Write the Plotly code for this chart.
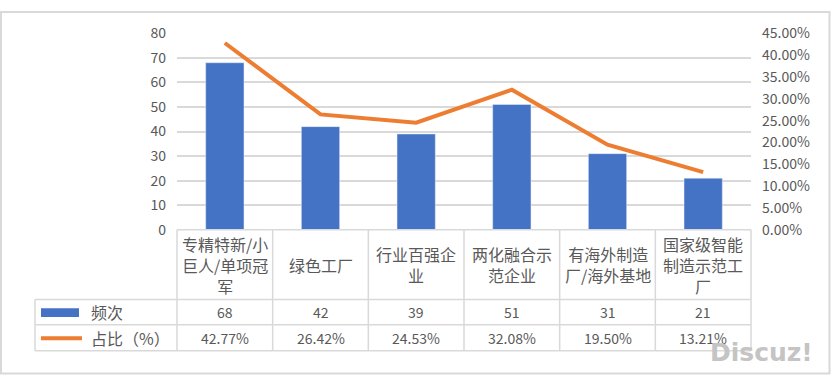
import plotly.graph_objects as go

categories = ["专精特新/小巨人/单项冠军", "绿色工厂", "行业百强企业", "两化融合示范企业", "有海外制造厂/海外基地", "国家级智能制造示范工厂"]
category_labels = ["专精特新/小<br>巨人/单项冠<br>军", "绿色工厂", "行业百强企<br>业", "两化融合示<br>范企业", "有海外制造<br>厂/海外基地", "国家级智能<br>制造示范工<br>厂"]
freq = [68, 42, 39, 51, 31, 21]
share = [0.4277, 0.2642, 0.2453, 0.3208, 0.1950, 0.1321]
series_names = ["频次", "占比（%）"]

W, H = 832, 377          # reference picture size (layout positions below are in these pixels)
FIG_H = 385              # height of the rendered viewport (photographed and fitted to 377)
X0, X1 = 177, 751
Y_TOP, Y_BOT = 23, 226
ROW1, ROW2, ROW3 = 298, 324, 351
TABLE_L = 35
GRID = "#D9D9D9"
TXT = "#595959"
BLUE = "#4472C4"
ORANGE = "#ED7D31"
FONT = "Noto Sans CJK SC, Open Sans, sans-serif"

def px(x):
    return x / W

def py(y):
    return 1 - y / H

fig = go.Figure()
fig.add_trace(go.Bar(x=categories, y=freq, name=series_names[0], marker_color=BLUE, yaxis="y"))
fig.add_trace(go.Scatter(x=categories, y=share, name=series_names[1], mode="lines",
                         line=dict(color=ORANGE, width=4), yaxis="y2"))

shapes = []
def line(x0, y0, x1, y1, color=GRID, width=1.5):
    shapes.append(dict(type="line", xref="paper", yref="paper", x0=px(x0), y0=py(y0), x1=px(x1), y1=py(y1),
                       line=dict(color=color, width=width)))

# outer border
shapes.append(dict(type="rect", xref="paper", yref="paper", x0=px(1), y0=py(1), x1=px(829.5), y1=py(374.5),
                   line=dict(color=GRID, width=2)))
# table horizontal lines
line(X0, Y_BOT, X1, Y_BOT)
for yy in (ROW1, ROW2, ROW3):
    line(TABLE_L, yy, X1, yy)
# table vertical lines
line(TABLE_L, ROW1, TABLE_L, ROW3)
n = len(categories)
for i in range(n + 1):
    xx = X0 + (X1 - X0) * i / n
    line(xx, Y_BOT, xx, ROW3)
# legend keys
shapes.append(dict(type="rect", xref="paper", yref="paper", x0=px(41), y0=py(316), x1=px(79), y1=py(307),
                   fillcolor=BLUE, line=dict(width=0)))
line(41, 338, 82, 338, color=ORANGE, width=4)

annotations = []
hdr_mid = (Y_BOT + ROW1) / 2
r2_mid = (ROW1 + ROW2) / 2
r3_mid = (ROW2 + ROW3) / 2
for c, lab, f, s in zip(categories, category_labels, freq, share):
    annotations.append(dict(x=c, xref="x", y=py(hdr_mid), yref="paper", text=lab, showarrow=False,
                            font=dict(size=16, color=TXT, family=FONT), align="center", yanchor="middle"))
    annotations.append(dict(x=c, xref="x", y=py(r2_mid), yref="paper", text=str(f), showarrow=False,
                            font=dict(size=14, color=TXT, family=FONT), yanchor="middle"))
    annotations.append(dict(x=c, xref="x", y=py(r3_mid), yref="paper", text=f"{s*100:.2f}%", showarrow=False,
                            font=dict(size=14, color=TXT, family=FONT), yanchor="middle"))
annotations.append(dict(x=px(89), y=py(r2_mid), xref="paper", yref="paper", text=series_names[0], showarrow=False,
                        xanchor="left", yanchor="middle", font=dict(size=16, color=TXT, family=FONT)))
annotations.append(dict(x=px(89), y=py(r3_mid), xref="paper", yref="paper", text=series_names[1], showarrow=False,
                        xanchor="left", yanchor="middle", font=dict(size=16, color=TXT, family=FONT)))
annotations.append(dict(x=px(815), y=py(353), xref="paper", yref="paper", text="<b>Discuz!</b>", showarrow=False,
                        xanchor="right", yanchor="middle", font=dict(size=25, color="#C4C4C4", family="DejaVu Sans")))

fig.update_layout(
    width=W, height=FIG_H,
    margin=dict(l=0, r=0, t=0, b=0),
    paper_bgcolor="white", plot_bgcolor="white",
    showlegend=False,
    bargap=0.6,
    font=dict(family=FONT, color=TXT, size=14),
    xaxis=dict(domain=[px(X0), px(X1)], range=[-0.5, n - 0.5], showticklabels=False, showgrid=False,
               zeroline=False, showline=False, ticks=""),
    yaxis=dict(domain=[py(Y_BOT), py(Y_TOP)], range=[0, 80], dtick=10, showgrid=True, gridcolor=GRID,
               gridwidth=1.5, zeroline=False, showline=False, ticks="", tickfont=dict(size=14, color=TXT),
               ticklabelstandoff=10),
    yaxis2=dict(domain=[py(Y_BOT), py(Y_TOP)], range=[0, 0.45], dtick=0.05, tickformat=".2%", overlaying="y",
                side="right", showgrid=False, zeroline=False, showline=False, ticks="",
                tickfont=dict(size=14, color=TXT), ticklabelstandoff=10),
    shapes=shapes,
    annotations=annotations,
)

post = ("var d=document.getElementById('{plot_id}');"
        "d.style.position='fixed';d.style.top='0px';d.style.left='0px';"
        "document.body.style.margin='0px';document.documentElement.style.overflow='hidden';"
        "document.body.style.overflow='hidden';")
fig.write_html("out.html", config={"responsive": False, "displayModeBar": False}, post_script=post)
